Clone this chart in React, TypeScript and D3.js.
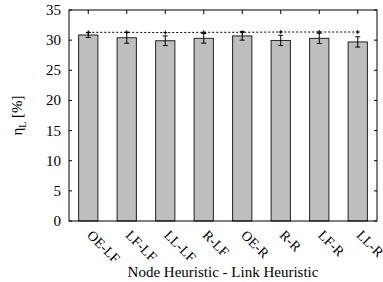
import React from "react";
import * as d3 from "d3";

const categories = ["OE-LF", "LF-LF", "LL-LF", "R-LF", "OE-R", "R-R", "LF-R", "LL-R"];
const efficiency = [30.85, 30.4, 29.9, 30.3, 30.7, 29.95, 30.3, 29.7];
const errors = [0.4, 0.9, 0.8, 0.8, 0.7, 0.85, 0.85, 0.85];
const upperBound = [31.3, 31.3, 31.25, 31.3, 31.3, 31.35, 31.35, 31.35];
const yTicks = [0, 5, 10, 15, 20, 25, 30, 35];

const W = 383;
const H = 282;
const margin = { top: 10, right: 6, bottom: 61, left: 69 };
const font = "Liberation Serif, DejaVu Serif, serif";

export default function App() {
  const x = d3
    .scaleBand()
    .domain(categories)
    .range([margin.left, W - margin.right])
    .paddingInner(0.5)
    .paddingOuter(0.25);
  const y = d3.scaleLinear().domain([0, 35]).range([H - margin.bottom, margin.top]);

  const cx = (c) => x(c) + x.bandwidth() / 2;
  const x0 = margin.left;
  const x1 = W - margin.right;
  const y0 = y(0);
  const yTop = y(35);

  const line = d3
    .line()
    .x((d, i) => cx(categories[i]))
    .y((d) => y(d));

  return (
    <svg
      width={W}
      height={H}
      style={{ position: "absolute", left: 0, top: 0, background: "#fff", fontFamily: font }}
    >
      {/* ticks */}
      {yTicks.map((t) => (
        <g key={t}>
          <line x1={x0} x2={x0 + 3} y1={y(t)} y2={y(t)} stroke="#000" />
          <line x1={x1} x2={x1 - 3} y1={y(t)} y2={y(t)} stroke="#000" />
          <text x={x0 - 8} y={y(t) + 5} textAnchor="end" fontSize={15}>
            {t}
          </text>
        </g>
      ))}
      {categories.map((c) => (
        <g key={c}>
          <line x1={cx(c)} x2={cx(c)} y1={yTop} y2={yTop + 4} stroke="#000" />
          <line x1={cx(c)} x2={cx(c)} y1={y0} y2={y0 - 4} stroke="#000" />
        </g>
      ))}

      {/* bars */}
      {categories.map((c, i) => (
        <rect
          key={c}
          x={x(c)}
          y={y(efficiency[i])}
          width={x.bandwidth()}
          height={y0 - y(efficiency[i])}
          fill="#bebebe"
          stroke="#222"
          strokeWidth={1}
        />
      ))}

      {/* error bars */}
      {categories.map((c, i) => {
        const hi = y(efficiency[i] + errors[i]);
        const lo = y(efficiency[i] - errors[i]);
        return (
          <g key={c} stroke="#000" strokeWidth={1}>
            <line x1={cx(c)} x2={cx(c)} y1={hi} y2={lo} />
            <line x1={cx(c) - 2.5} x2={cx(c) + 2.5} y1={hi} y2={hi} />
            <line x1={cx(c) - 2.5} x2={cx(c) + 2.5} y1={lo} y2={lo} />
          </g>
        );
      })}

      {/* upper bound dashed line */}
      <path d={line(upperBound)} fill="none" stroke="#000" strokeWidth={1} strokeDasharray="2,2" />
      {upperBound.map((v, i) => (
        <g key={i} stroke="#000" strokeWidth={1}>
          <line x1={cx(categories[i]) - 2} x2={cx(categories[i]) + 2} y1={y(v)} y2={y(v)} />
          <line x1={cx(categories[i])} x2={cx(categories[i])} y1={y(v) - 2} y2={y(v) + 2} />
        </g>
      ))}

      {/* frame */}
      <rect x={x0} y={yTop} width={x1 - x0} height={y0 - yTop} fill="none" stroke="#000" strokeWidth={1} />

      {/* x tick labels */}
      {categories.map((c) => {
        const lx = cx(c) - 2;
        const ly = y0 + 15;
        return (
          <text key={c} x={lx} y={ly} transform={`rotate(45 ${lx} ${ly})`} fontSize={14}>
            {c}
          </text>
        );
      })}

      <text x={(x0 + x1) / 2} y={277} textAnchor="middle" fontSize={15}>
        Node Heuristic - Link Heuristic
      </text>

      <text transform={`translate(22,${(y0 + yTop) / 2}) rotate(-90)`} textAnchor="middle" fontSize={15}>
        η
        <tspan fontSize={10} dy={4}>
          L
        </tspan>
        <tspan dy={-4}> [%]</tspan>
      </text>
    </svg>
  );
}
